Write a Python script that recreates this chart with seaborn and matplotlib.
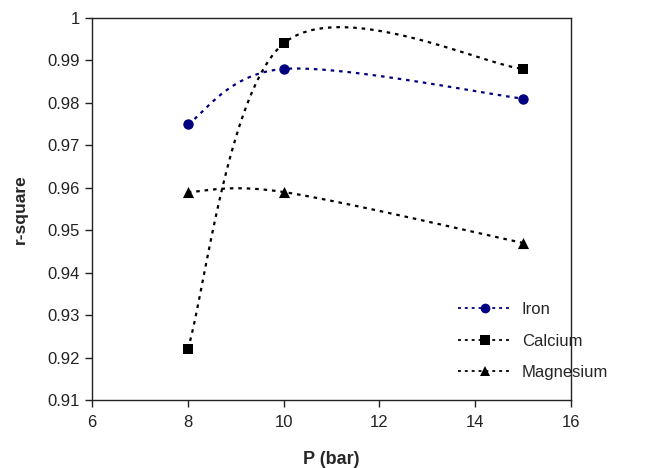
import numpy as np
import pandas as pd
import matplotlib
matplotlib.use("Agg")
import matplotlib.pyplot as plt
from matplotlib.lines import Line2D
import seaborn as sns

# ---- data ----
pressure = [8, 10, 15]
iron = [0.975, 0.988, 0.981]
calcium = [0.922, 0.994, 0.988]
magnesium = [0.959, 0.959, 0.947]
series_names = ["Iron", "Calcium", "Magnesium"]
x_ticks = [6, 8, 10, 12, 14, 16]
y_ticks = [0.91, 0.92, 0.93, 0.94, 0.95, 0.96, 0.97, 0.98, 0.99, 1.0]
y_tick_labels = ["0.91", "0.92", "0.93", "0.94", "0.95", "0.96", "0.97", "0.98", "0.99", "1"]

sns.set_style("ticks")
plt.rcParams["font.family"] = ["Liberation Sans", "DejaVu Sans"]


def excel_smooth(xs, ys, n=60):
    """Catmull-Rom style Bezier smoothing (as in spreadsheet smoothed lines)."""
    P = np.column_stack([xs, ys]).astype(float)
    pts = np.vstack([P[0], P, P[-1]])
    out = []
    for i in range(1, len(pts) - 2):
        p0, p1, p2, p3 = pts[i - 1], pts[i], pts[i + 1], pts[i + 2]
        c1 = p1 + (p2 - p0) / 6.0
        c2 = p2 - (p3 - p1) / 6.0
        t = np.linspace(0, 1, n)[:, None]
        seg = ((1 - t) ** 3) * p1 + 3 * ((1 - t) ** 2) * t * c1 + 3 * (1 - t) * t ** 2 * c2 + t ** 3 * p2
        out.append(seg if i == 1 else seg[1:])
    seg = np.vstack(out)
    return seg[:, 0], seg[:, 1]


fig = plt.figure(figsize=(6.46, 4.68), dpi=100)
ax = fig.add_axes([0.1424, 0.1453, 0.7415, 0.8162])

values = {"Iron": iron, "Calcium": calcium, "Magnesium": magnesium}
colors = {"Iron": "#000080", "Calcium": "#000000", "Magnesium": "#000000"}
markers = {"Iron": "o", "Calcium": "s", "Magnesium": "^"}
msizes = {"Iron": 7.5, "Calcium": 7, "Magnesium": 8}
dash = (0, (1.6, 2.2))

handles = []
for name in series_names:
    sx, sy = excel_smooth(pressure, values[name])
    curve = pd.DataFrame({"x": sx, "y": sy})
    sns.lineplot(data=curve, x="x", y="y", ax=ax, color=colors[name], sort=False,
                 estimator=None, linewidth=1.6, linestyle=dash, legend=False)
    pts = pd.DataFrame({"x": pressure, "y": values[name]})
    sns.scatterplot(data=pts, x="x", y="y", ax=ax, color=colors[name], marker=markers[name],
                    s=msizes[name] ** 2, edgecolor=colors[name], linewidth=0, legend=False, zorder=5)
    handles.append(Line2D([0], [0], color=colors[name], linestyle=dash, linewidth=1.3,
                          marker=markers[name], markersize=msizes[name] - 0.5,
                          markeredgewidth=0, label=name))

ax.set_xlim(6, 16)
ax.set_ylim(0.91, 1.0)
ax.set_xticks(x_ticks)
ax.set_xticklabels([str(v) for v in x_ticks])
ax.set_yticks(y_ticks)
ax.set_yticklabels(y_tick_labels)
ax.tick_params(direction="out", length=5, width=1, labelsize=12, colors="#222222")
ax.tick_params(axis="x", pad=6)
for sp in ax.spines.values():
    sp.set_visible(True)
    sp.set_linewidth(1.0)
    sp.set_color("#222222")

ax.set_xlabel("P (bar)", fontsize=13, fontweight="bold", labelpad=15)
ax.set_ylabel("r-square", fontsize=12.5, fontweight="bold", labelpad=14)

ax.legend(handles=handles, loc="upper left", bbox_to_anchor=(0.6966, 0.372),
          bbox_transform=fig.transFigure, frameon=False, borderpad=0,
          fontsize=12, handlelength=3.2, labelspacing=0.98, handletextpad=0.6)

fig.savefig("out.png", dpi=100)
